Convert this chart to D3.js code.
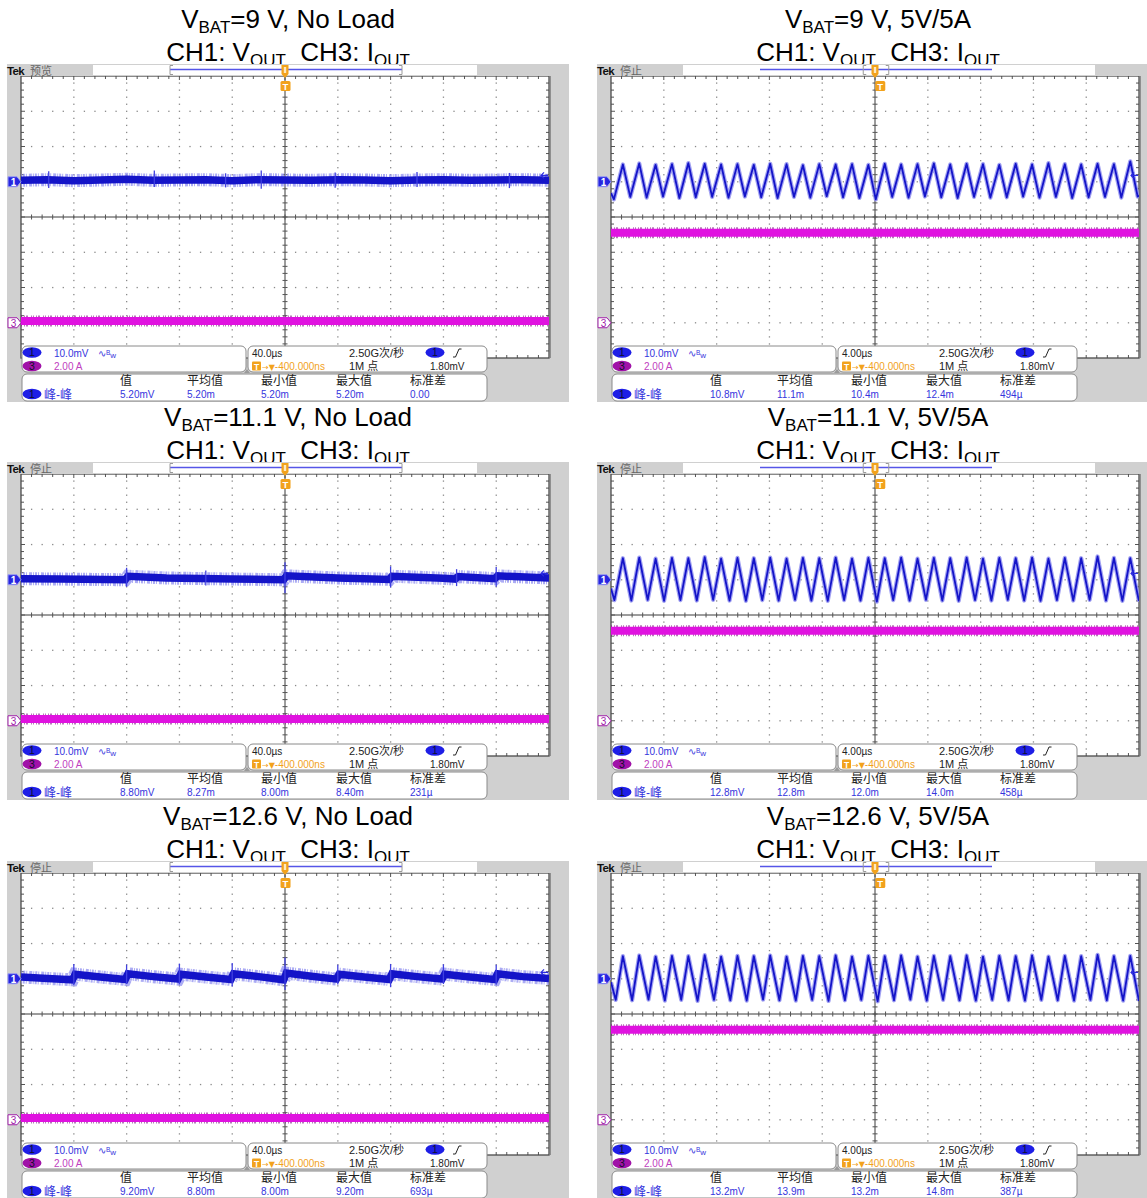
<!DOCTYPE html>
<html><head><meta charset="utf-8">
<script src="https://cdn.jsdelivr.net/npm/d3@7"></script>
<style>
body{margin:0;background:#fff;}
svg{display:block;}
text{font-family:"Liberation Sans",Arial,"Noto Sans CJK SC",sans-serif;}
</style></head><body>
<svg id="c" width="1147" height="1198"></svg>
<script>
// ---------- captions ----------
const vbat = ["9", "9", "11.1", "11.1", "12.6", "12.6"];
const loads = ["No Load", "5V/5A", "No Load", "5V/5A", "No Load", "5V/5A"];
const statusText = ["预览", "停止", "停止", "停止", "停止", "停止"];

// ---------- scope settings ----------
const timeDiv = [40, 4, 40, 4, 40, 4];                  // µs per division
const timeDivLabel = ["40.0µs", "4.00µs", "40.0µs", "4.00µs", "40.0µs", "4.00µs"];
const ch1Scale = "10.0mV";   // per division
const ch3Scale = "2.00 A";   // per division
const ch1mVperDiv = 10, ch3AperDiv = 2;
const ch1Pos = 1, ch3Pos = -3;                          // channel ground, divisions from centre
const sampleRate = "2.50G次/秒", recordLen = "1M 点";
const trigLevelLabel = "1.80mV", trigLevel = 1.8;        // mV
const trigDelayLabel = "-400.000ns", trigDelay = -0.4;  // µs

// ---------- measurements (CH1 peak-to-peak) ----------
const measHeads = ["值", "平均值", "最小值", "最大值", "标准差"];
const measVals = [
  ["5.20mV", "5.20m", "5.20m", "5.20m", "0.00"],
  ["10.8mV", "11.1m", "10.4m", "12.4m", "494µ"],
  ["8.80mV", "8.27m", "8.00m", "8.40m", "231µ"],
  ["12.8mV", "12.8m", "12.0m", "14.0m", "458µ"],
  ["9.20mV", "8.80m", "8.00m", "9.20m", "693µ"],
  ["13.2mV", "13.9m", "13.2m", "14.8m", "387µ"]
];

// ---------- CH3 output current level (A) ----------
const ch3Level = [0.1, 5.1, 0.1, 5.1, 0.1, 5.1];

// ---------- CH1 no-load traces: [t µs, mV] and spikes [t µs, high mV, low mV] ----------
const flat9 = [[-200,0.4],[-180,0.6],[-160,0.3],[-140,0.5],[-120,0.7],[-100,0.4],[-80,0.5],[-60,0.6],[-40,0.3],[-20,0.6],[0,0.5],[20,0.4],[40,0.6],[60,0.5],[80,0.3],[100,0.5],[120,0.6],[140,0.4],[160,0.5],[180,0.6],[200,0.4]];
const spikes9 = [[-179,3.0,-1.8],[-99,3.2,-1.5],[-45,2.4,-1.6],[-18,3.2,-2.0],[38,2.6,-1.7],[100,2.8,-1.5],[170,2.5,-1.8]];
const flat11 = [[-200,0.3],[-170,0.2],[-121,0.0],[-119,1.0],[-90,0.5],[-40,0.2],[-1,0.0],[1,1.1],[40,0.5],[79,0.1],[81,1.0],[120,0.4],[129,0.2],[131,0.9],[159,0.3],[161,1.1],[200,0.5]];
const spikes11 = [[-120,3.4,-2.0],[0,5.0,-3.8],[80,3.8,-2.2],[130,3.0,-1.8],[160,3.6,-2.0],[-60,2.6,-1.6]];
const flat12 = [[-200,0.5],[-180,0.1],[-161,-0.3],[-159,1.3],[-140,0.5],[-121,-0.2],[-119,1.4],[-100,0.6],[-81,-0.1],[-79,1.3],[-60,0.5],[-41,-0.2],[-39,1.4],[-20,0.6],[-1,-0.3],[1,1.6],[20,0.7],[39,-0.1],[41,1.3],[60,0.5],[79,-0.2],[81,1.4],[100,0.6],[119,-0.1],[121,1.3],[140,0.5],[159,-0.2],[161,1.4],[180,0.6],[200,0.1]];
const spikes12 = [[-160,4.2,-1.8],[-120,4.0,-1.5],[-80,4.3,-1.6],[-40,4.5,-2.2],[0,6.0,-3.2],[40,4.0,-1.6],[80,4.2,-2.4],[120,4.1,-1.5],[160,4.0,-1.7]];

// ---------- CH1 output ripple at 5 A: vertices [t µs, mV] ----------
const ripple9 = [[-20.0,-3.2],[-19.78,-5.0],[-19.10,4.9],[-18.54,-4.3],[-17.86,5.2],[-17.30,-4.5],[-16.62,4.8],[-16.06,-4.2],[-15.38,5.0],[-14.82,-4.6],[-14.14,5.3],[-13.58,-4.4],[-12.90,5.1],[-12.34,-4.3],[-11.66,4.9],[-11.10,-4.5],[-10.42,5.0],[-9.86,-4.2],[-9.18,4.8],[-8.62,-4.4],[-7.94,5.1],[-7.38,-4.6],[-6.70,5.0],[-6.14,-4.3],[-5.46,4.7],[-4.90,-4.5],[-4.22,5.0],[-3.66,-4.1],[-2.98,4.9],[-2.42,-4.4],[-1.74,5.0],[-1.18,-4.6],[-0.50,4.8],[0.06,-5.0],[0.74,5.1],[1.30,-4.3],[1.98,4.9],[2.54,-4.5],[3.22,5.0],[3.78,-4.2],[4.46,5.2],[5.02,-4.4],[5.70,4.9],[6.26,-4.6],[6.94,5.1],[7.50,-4.3],[8.18,5.0],[8.74,-4.5],[9.42,4.8],[9.98,-4.4],[10.66,5.1],[11.22,-4.2],[11.90,4.9],[12.46,-4.5],[13.14,5.3],[13.70,-4.3],[14.38,5.0],[14.94,-4.6],[15.62,4.9],[16.18,-4.4],[16.86,5.1],[17.42,-4.3],[18.10,5.0],[18.66,-4.5],[19.34,5.8],[19.90,-4.2],[20.0,-3.9]];
const ripple11 = [[-20.0,-2.5],[-19.74,-5.8],[-19.10,6.1],[-18.46,-5.9],[-17.86,6.3],[-17.22,-5.7],[-16.62,6.0],[-15.98,-6.0],[-15.38,6.2],[-14.74,-5.8],[-14.14,6.1],[-13.50,-5.9],[-12.90,6.4],[-12.26,-5.7],[-11.66,6.0],[-11.02,-5.9],[-10.42,6.2],[-9.78,-6.0],[-9.18,6.1],[-8.54,-5.8],[-7.94,6.3],[-7.30,-5.9],[-6.70,6.0],[-6.06,-5.7],[-5.46,6.2],[-4.82,-5.9],[-4.22,6.1],[-3.58,-6.0],[-2.98,6.3],[-2.34,-5.8],[-1.74,6.0],[-1.10,-5.9],[-0.50,6.2],[0.14,-6.2],[0.74,6.1],[1.38,-5.8],[1.98,6.3],[2.62,-5.9],[3.22,6.0],[3.86,-5.7],[4.46,6.2],[5.10,-5.9],[5.70,6.1],[6.34,-6.0],[6.94,6.3],[7.58,-5.8],[8.18,6.0],[8.82,-5.9],[9.42,6.2],[10.06,-5.7],[10.66,6.1],[11.30,-5.9],[11.90,6.3],[12.54,-6.0],[13.14,6.0],[13.78,-5.8],[14.38,6.2],[15.02,-5.9],[15.62,6.1],[16.26,-5.7],[16.86,6.6],[17.50,-5.9],[18.10,6.2],[18.74,-6.0],[19.34,6.1],[19.98,-5.8],[20.0,-5.6]];
const ripple12 = [[-20.0,-1.0],[-19.64,-6.0],[-19.10,6.4],[-18.40,-6.1],[-17.86,6.6],[-17.16,-5.9],[-16.62,6.3],[-15.92,-6.2],[-15.38,6.5],[-14.68,-6.0],[-14.14,6.4],[-13.44,-6.3],[-12.90,6.7],[-12.20,-6.0],[-11.66,6.3],[-10.96,-6.1],[-10.42,6.5],[-9.72,-6.2],[-9.18,6.4],[-8.48,-5.9],[-7.94,6.6],[-7.24,-6.1],[-6.70,6.3],[-6.00,-6.2],[-5.46,6.5],[-4.76,-6.0],[-4.22,6.4],[-3.52,-6.3],[-2.98,6.6],[-2.28,-6.1],[-1.74,6.3],[-1.04,-6.0],[-0.50,6.5],[0.20,-6.4],[0.74,6.4],[1.44,-6.1],[1.98,6.6],[2.68,-5.9],[3.22,6.3],[3.92,-6.2],[4.46,6.5],[5.16,-6.0],[5.70,6.4],[6.40,-6.1],[6.94,6.6],[7.64,-6.2],[8.18,6.3],[8.88,-6.0],[9.42,6.5],[10.12,-6.1],[10.66,6.4],[11.36,-6.2],[11.90,6.6],[12.60,-6.0],[13.14,6.3],[13.84,-6.1],[14.38,6.5],[15.08,-6.2],[15.62,6.4],[16.32,-6.0],[16.86,6.8],[17.56,-6.1],[18.10,6.4],[18.80,-6.2],[19.34,6.5],[20.0,-6.3]];

const ch1Traces = [flat9, ripple9, flat11, ripple11, flat12, ripple12];
const ch1Spikes = [spikes9, [], spikes11, [], spikes12, []];

// ---------- layout ----------
const colX = [7, 597], rowY = [64, 462, 861];
const PW = 562, PH = 338;
const gx0 = 14, gx1 = 542, gy0 = 12, gy1 = 294;
const recordBarEnd = [470, 498];                        // header record bar, per column
const C1 = "#1414c8", C1halo = "#9090f0", C1text = "#3535dd";
const C3 = "#e012e0", C3dark = "#7a0a80", C3text = "#c040c0";
const ORANGE = "#f2a21c";
const GRAY = "#d0d0d0";

const svg = d3.select("#c");
const defs = svg.append("defs");
defs.append("clipPath").attr("id", "grat").append("rect")
  .attr("x", gx0).attr("y", gy0).attr("width", gx1 - gx0).attr("height", gy1 - gy0);

function badge(g, cx, cy, label, fill) {
  g.append("ellipse").attr("cx", cx).attr("cy", cy).attr("rx", 9.5).attr("ry", 5.2).attr("fill", fill);
  g.append("text").attr("x", cx).attr("y", cy + 3.8).attr("text-anchor", "middle")
    .attr("font-size", 10.5).attr("fill", "#10102a").text(label);
}

for (let i = 0; i < 6; i++) {
  const col = i % 2, row = Math.floor(i / 2);
  const px = colX[col], py = rowY[row];

  // ----- caption -----
  const tg = svg.append("g").attr("transform", `translate(${px + 281},${py})`);
  const t1 = tg.append("text").attr("y", -36).attr("text-anchor", "middle").attr("font-size", 26).attr("fill", "#000");
  t1.append("tspan").text("V");
  t1.append("tspan").attr("dy", 5).attr("font-size", 17).text("BAT");
  t1.append("tspan").attr("dy", -5).text(`=${vbat[i]} V, ${loads[i]}`);
  const t2 = tg.append("text").attr("y", -3).attr("text-anchor", "middle").attr("font-size", 26)
    .attr("fill", "#000").style("white-space", "pre");
  t2.append("tspan").text("CH1: V");
  t2.append("tspan").attr("dy", 5).attr("font-size", 17).text("OUT");
  t2.append("tspan").attr("dy", -5).text("  CH3: I");
  t2.append("tspan").attr("dy", 5).attr("font-size", 17).text("OUT");

  // ----- screen -----
  const pg = svg.append("g").attr("transform", `translate(${px},${py})`);
  pg.append("rect").attr("width", PW).attr("height", PH).attr("fill", GRAY);

  const x = d3.scaleLinear().domain([-5 * timeDiv[i], 5 * timeDiv[i]]).range([gx0, gx1]);
  const yd = d3.scaleLinear().domain([4, -4]).range([gy0, gy1]);       // divisions
  const y1 = mv => yd(ch1Pos + mv / ch1mVperDiv);
  const y3 = a => yd(ch3Pos + a / ch3AperDiv);
  const divW = (gx1 - gx0) / 10, divH = (gy1 - gy0) / 8;

  pg.append("rect").attr("x", gx0).attr("y", gy0).attr("width", gx1 - gx0).attr("height", gy1 - gy0).attr("fill", "#fff");

  // graticule dots
  const dots = [];
  for (let c = 1; c < 10; c++) if (c !== 5) for (let r = 1; r < 40; r++) dots.push([gx0 + c * divW, gy0 + r * divH / 5]);
  for (let r = 1; r < 8; r++) if (r !== 4) for (let c = 1; c < 50; c++) if (c % 5 !== 0) dots.push([gx0 + c * divW / 5, gy0 + r * divH]);
  pg.append("g").selectAll("rect").data(dots).join("rect")
    .attr("x", d => d[0] - 0.6).attr("y", d => d[1] - 0.6).attr("width", 1.3).attr("height", 1.3).attr("fill", "#8a8a8a");

  // centre cross with minor ticks
  const cx = gx0 + 5 * divW, cy = gy0 + 4 * divH;
  const gl = pg.append("g").attr("stroke", "#3a3a3a").attr("stroke-width", 1);
  gl.append("line").attr("x1", gx0).attr("x2", gx1).attr("y1", cy).attr("y2", cy);
  gl.append("line").attr("x1", cx).attr("x2", cx).attr("y1", gy0).attr("y2", gy1);
  const tk = pg.append("g").attr("stroke", "#555").attr("stroke-width", 1);
  for (let c = 1; c < 50; c++) {
    const xx = gx0 + c * divW / 5;
    tk.append("line").attr("x1", xx).attr("x2", xx).attr("y1", cy - 2.5).attr("y2", cy + 2.5);
    tk.append("line").attr("x1", xx).attr("x2", xx).attr("y1", gy0).attr("y2", gy0 + (c % 5 ? 3 : 4));
    tk.append("line").attr("x1", xx).attr("x2", xx).attr("y1", gy1).attr("y2", gy1 - 3);
  }
  for (let r = 1; r < 40; r++) {
    const yy = gy0 + r * divH / 5;
    tk.append("line").attr("x1", cx - 2.5).attr("x2", cx + 2.5).attr("y1", yy).attr("y2", yy);
    tk.append("line").attr("x1", gx0).attr("x2", gx0 + (r % 5 ? 3 : 4)).attr("y1", yy).attr("y2", yy);
    tk.append("line").attr("x1", gx1).attr("x2", gx1 - (r % 5 ? 3 : 4)).attr("y1", yy).attr("y2", yy);
  }
  // border
  pg.append("rect").attr("x", gx0).attr("y", gy0).attr("width", gx1 - gx0).attr("height", gy1 - gy0)
    .attr("fill", "none").attr("stroke", "#4a4a4a").attr("stroke-width", 1.3);
  pg.append("line").attr("x1", gx1 + 1).attr("x2", gx1 + 1).attr("y1", gy0).attr("y2", gy1)
    .attr("stroke", "#7a7a7a").attr("stroke-width", 1.5);

  // ----- traces -----
  const tr = pg.append("g").attr("clip-path", "url(#grat)");
  const line1 = d3.line().x(d => x(d[0])).y(d => y1(d[1]));

  // CH3 output current
  const c3 = [[x.domain()[0], ch3Level[i]], [x.domain()[1], ch3Level[i]]];
  const line3 = d3.line().x(d => x(d[0])).y(d => y3(d[1]));
  tr.append("path").attr("d", line3(c3)).attr("fill", "none").attr("stroke", C3dark)
    .attr("stroke-width", 11).attr("stroke-dasharray", "1 2 1 1 2 3 1 1").attr("opacity", 0.55);
  tr.append("path").attr("d", line3(c3)).attr("fill", "none").attr("stroke", C3).attr("stroke-width", 8);

  // CH1 output voltage
  const data1 = ch1Traces[i];
  if (col === 0) {
    tr.append("path").attr("d", line1(data1)).attr("fill", "none").attr("stroke", C1halo)
      .attr("stroke-width", 13).attr("stroke-dasharray", "1 1 2 1 1 2 3 1").attr("opacity", 0.75);
    tr.append("path").attr("d", line1(data1)).attr("fill", "none").attr("stroke", C1).attr("stroke-width", 7.5);
    tr.append("g").selectAll("line").data(ch1Spikes[i]).join("line")
      .attr("x1", d => x(d[0])).attr("x2", d => x(d[0]))
      .attr("y1", d => y1(d[1])).attr("y2", d => y1(d[2]))
      .attr("stroke", "#4040e0").attr("stroke-width", 1.3);
  } else {
    tr.append("path").attr("d", line1(data1)).attr("fill", "none").attr("stroke", C1halo)
      .attr("stroke-width", 4.2).attr("stroke-linejoin", "round").attr("opacity", 0.85);
    tr.append("path").attr("d", line1(data1)).attr("fill", "none").attr("stroke", C1)
      .attr("stroke-width", 1.8).attr("stroke-linejoin", "round");
  }

  // trigger level arrow (right edge)
  const ty = y1(trigLevel);
  pg.append("path").attr("d", `M${gx1 - 1},${ty}H${gx1 - 8}M${gx1 - 5},${ty - 3}L${gx1 - 8},${ty}L${gx1 - 5},${ty + 3}`)
    .attr("fill", "none").attr("stroke", "#2a2ae0").attr("stroke-width", 1.2);

  // channel ground markers
  const m1 = y1(0), m3 = y3(0);
  const mk = yy => `M1,${yy - 5}H10L14,${yy}L10,${yy + 5}H1Z`;
  pg.append("path").attr("d", mk(m1)).attr("fill", "#2525e0").attr("stroke", "#9a9af5").attr("stroke-width", 1);
  pg.append("text").attr("x", 6.5).attr("y", m1 + 3.8).attr("text-anchor", "middle").attr("font-size", 10)
    .attr("font-weight", "bold").attr("fill", "#fff").text("1");
  pg.append("path").attr("d", mk(m3)).attr("fill", "#fff").attr("stroke", "#a020a8").attr("stroke-width", 1);
  pg.append("text").attr("x", 6.5).attr("y", m3 + 3.8).attr("text-anchor", "middle").attr("font-size", 10)
    .attr("fill", "#a020a8").text("3");

  // trigger position tag
  const tx = x(-trigDelay);
  pg.append("rect").attr("x", tx - 5).attr("y", 17).attr("width", 10).attr("height", 10).attr("rx", 1.5).attr("fill", ORANGE);
  pg.append("text").attr("x", tx).attr("y", 25.5).attr("text-anchor", "middle").attr("font-size", 9.5)
    .attr("font-weight", "bold").attr("fill", "#fff").text("T");

  // ----- header bar -----
  pg.append("rect").attr("width", PW).attr("height", gy0).attr("fill", GRAY);
  pg.append("text").attr("x", 0).attr("y", 10.5).attr("font-size", 11.5).attr("font-weight", "bold")
    .attr("letter-spacing", -0.6).attr("fill", "#111").text("Tek");
  pg.append("text").attr("x", 23).attr("y", 10.5).attr("font-size", 11).attr("fill", "#666")
    .style("font-family", "'Noto Sans CJK SC',sans-serif").text(statusText[i]);
  pg.append("rect").attr("x", 86).attr("y", 1).attr("width", recordBarEnd[col] - 86).attr("height", 10).attr("fill", "#fff");
  const recX0 = 163, recX1 = 395;
  pg.append("line").attr("x1", recX0).attr("x2", recX1).attr("y1", 5.5).attr("y2", 5.5)
    .attr("stroke", "#5555e8").attr("stroke-width", 1.5);
  const viewFrac = col === 0 ? [0, 1] : [0.445, 0.555];
  const bx0 = recX0 + (recX1 - recX0) * viewFrac[0], bx1 = recX0 + (recX1 - recX0) * viewFrac[1];
  pg.append("path").attr("d", `M${bx0 + 3},1.5H${bx0}V10.5H${bx0 + 3}M${bx1 - 3},1.5H${bx1}V10.5H${bx1 - 3}`)
    .attr("fill", "none").attr("stroke", "#9a9a9a").attr("stroke-width", 1);
  const hx = x(0);
  pg.append("path").attr("d", `M${hx - 3.5},1H${hx + 3.5}V10L${hx},14L${hx - 3.5},10Z`).attr("fill", ORANGE);
  pg.append("rect").attr("x", hx - 1.2).attr("y", 3).attr("width", 2.4).attr("height", 6).attr("fill", "#fde9c0");

  // ----- info boxes -----
  const box = (x0, y0, w, h) => pg.append("rect").attr("x", x0).attr("y", y0).attr("width", w).attr("height", h)
    .attr("rx", 5).attr("fill", "#fff").attr("stroke", "#8a8a8a").attr("stroke-width", 1);
  box(15, 282, 224, 26);
  box(241, 282, 239, 26);
  box(15, 310, 465, 27);
  pg.append("path").attr("d", "M237,309L240,305L243,309Z").attr("fill", "#9a9a9a");

  const ft = (xx, yy, s, fill, size) => pg.append("text").attr("x", xx).attr("y", yy)
    .attr("font-size", size || 10).attr("fill", fill).text(s);

  badge(pg, 25, 288.5, "1", "#1e1ee6");
  ft(47, 292.5, ch1Scale, C1text);
  const bw = pg.append("text").attr("x", 91).attr("y", 292.5).attr("fill", C1text).attr("font-size", 10);
  bw.append("tspan").text("∿");
  bw.append("tspan").attr("dy", -2).attr("font-size", 6.5).text("B");
  bw.append("tspan").attr("dy", 3).attr("font-size", 8).text("w");
  badge(pg, 25, 302, "3", "#a012a8");
  ft(47, 306, ch3Scale, C3text);

  ft(245, 292.5, timeDivLabel[i], "#222");
  ft(342, 293, sampleRate, "#222", 11);
  badge(pg, 428, 288.5, "1", "#1e1ee6");
  pg.append("path").attr("d", "M446,293H448.5L452,285H454.5").attr("fill", "none").attr("stroke", "#222").attr("stroke-width", 1);
  pg.append("rect").attr("x", 245).attr("y", 297.5).attr("width", 9).attr("height", 9).attr("rx", 1).attr("fill", ORANGE);
  pg.append("text").attr("x", 249.5).attr("y", 305.5).attr("text-anchor", "middle").attr("font-size", 8.5)
    .attr("font-weight", "bold").attr("fill", "#fff").text("T");
  const td = pg.append("text").attr("x", 255).attr("y", 306).attr("font-size", 10).attr("fill", ORANGE);
  td.append("tspan").style("font-family", "'DejaVu Sans',sans-serif").attr("font-size", 8).text("→▼");
  td.append("tspan").text(trigDelayLabel);
  ft(342, 305.5, recordLen, "#222", 11);
  ft(423, 306, trigLevelLabel, "#222");

  badge(pg, 25, 330, "1", "#1e1ee6");
  ft(37, 334.5, "峰-峰", C1text, 12);
  const mx = [113, 180, 254, 329, 403];
  measHeads.forEach((h, k) => ft(mx[k], 321, h, "#222", 12));
  measVals[i].forEach((v, k) => ft(mx[k], 334, v, C1text));
}
</script>
</body></html>
